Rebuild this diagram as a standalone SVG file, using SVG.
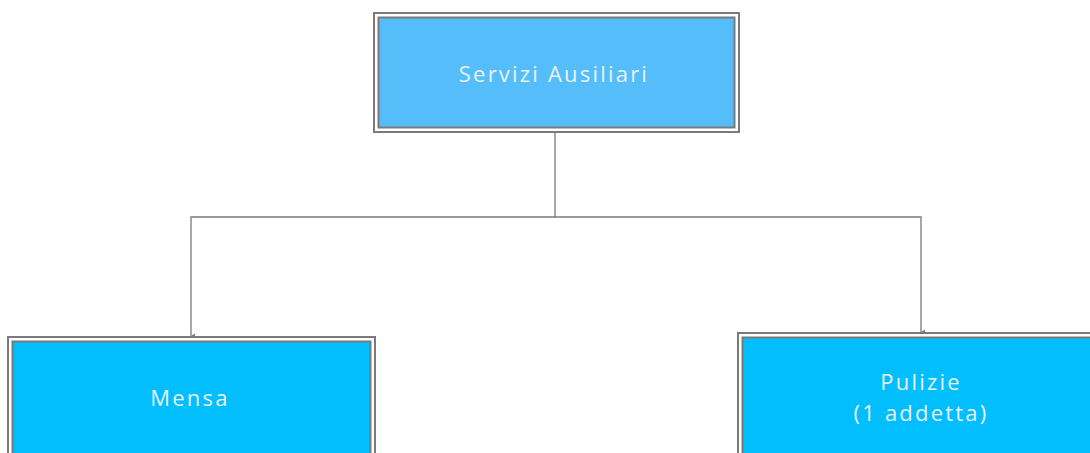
<svg xmlns="http://www.w3.org/2000/svg" width="1090" height="453" viewBox="0 0 1090 453">
<style>
.outer{fill:#fff;stroke:#7a7a7a;stroke-width:2}
.inner{stroke:#7a7a7a;stroke-width:2}
.t{font-family:"Open Sans","Liberation Sans",sans-serif;font-size:22px;fill:#e6f3fb;text-anchor:middle;letter-spacing:2.2px}
.c{fill:none;stroke:#7a7a7a;stroke-width:1.3}
</style>
<defs>
<marker id="ah" markerWidth="6" markerHeight="6" refX="3" refY="5" orient="auto-start-reverse" markerUnits="userSpaceOnUse">
<path d="M0.5,1 L5.5,1 L3,5 Z" fill="#7a7a7a"/>
</marker>
</defs>
<rect width="1090" height="453" fill="#fff"/>
<g id="connectors">
<polyline class="c" points="555,132 555,217"/>
<polyline class="c" points="555,217 191,217 191,336" marker-end="url(#ah)"/>
<polyline class="c" points="555,217 921,217 921,332" marker-end="url(#ah)"/>
</g>
<g id="servizi">
<rect class="outer" x="374" y="13" width="365" height="119"/>
<rect class="inner" x="378.5" y="17.5" width="356" height="110" fill="#56bdfb"/>
<text class="t" x="554" y="82">Servizi Ausiliari</text>
</g>
<g id="mensa">
<rect class="outer" x="8" y="337" width="367" height="130"/>
<rect class="inner" x="12.5" y="341.5" width="358" height="125" fill="#02befd"/>
<text class="t" x="190" y="406">Mensa</text>
</g>
<g id="pulizie">
<rect class="outer" x="738" y="333" width="360" height="130"/>
<rect class="inner" x="742.5" y="337.5" width="355" height="125" fill="#02befd"/>
<text class="t" x="921" y="390">Pulizie</text>
<text class="t" x="921" y="421">(1 addetta)</text>
</g>
</svg>
